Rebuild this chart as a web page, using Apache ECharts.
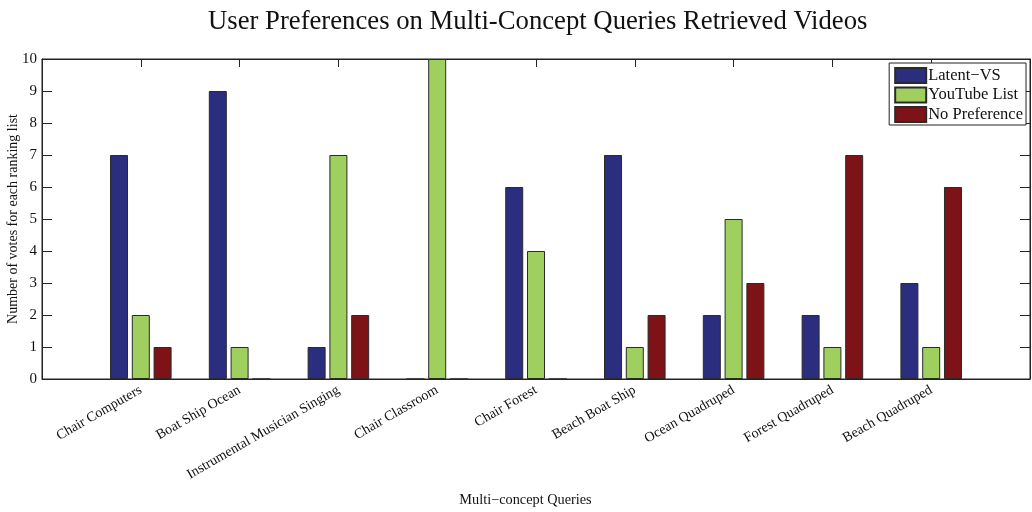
<!DOCTYPE html>
<html>
<head>
<meta charset="utf-8">
<script src="https://cdn.jsdelivr.net/npm/echarts@6/dist/echarts.min.js"></script>
<style>
  html, body { margin: 0; padding: 0; background: #fff; }
  #chart { width: 1032px; height: 512px; }
</style>
</head>
<body>
<div id="chart"></div>
<script>
// Query categories, placed at x = 1..9 on a 0..10 axis
const categories = [
  'Chair Computers', 'Boat Ship Ocean', 'Instrumental Musician Singing',
  'Chair Classroom', 'Chair Forest', 'Beach Boat Ship',
  'Ocean Quadruped', 'Forest Quadruped', 'Beach Quadruped'
];
const seriesNames = ['Latent\u2212VS', 'YouTube List', 'No Preference'];
const latentVS     = [7, 9, 1, 0, 6, 7, 2, 2, 3];
const youtubeList  = [2, 1, 7, 10, 4, 1, 5, 1, 1];
const noPreference = [1, 0, 2, 0, 0, 2, 3, 7, 6];
const yTicks = [0, 1, 2, 3, 4, 5, 6, 7, 8, 9, 10];

const serif = 'Liberation Serif';
const colors = ['#2b2e7f', '#9fd05f', '#7e1317'];

const toPoints = arr => arr.map((v, i) => [i + 1, v]);

const chart = echarts.init(document.getElementById('chart'), null, { renderer: 'canvas' });

const barSeries = [latentVS, youtubeList, noPreference].map((arr, k) => ({
  name: seriesNames[k],
  type: 'bar',
  data: toPoints(arr),
  barWidth: 18,
  barGap: '21%',
  itemStyle: { color: colors[k], borderColor: '#2a2a2a', borderWidth: 1 }
}));

// Box-style axes: every axis line sits on its own grid edge, ticks point inward
const lineStyle = { show: true, onZero: false, lineStyle: { color: '#222', width: 1 } };
const tickStyle = { show: true, inside: true, lineStyle: { color: '#222', width: 1 } };

chart.setOption({
  animation: false,
  textStyle: { fontFamily: serif },
  title: {
    text: 'User Preferences on Multi-Concept Queries Retrieved Videos',
    left: 203,
    top: 3,
    textStyle: { fontFamily: serif, fontSize: 26.7, fontWeight: 'normal', color: '#111' }
  },
  legend: {
    right: 6,
    top: 63,
    orient: 'vertical',
    itemWidth: 31,
    itemHeight: 15,
    itemGap: 0.5,
    padding: [3, 3, 1, 5],
    borderColor: '#222',
    borderWidth: 1,
    backgroundColor: '#fff',
    textStyle: { fontFamily: serif, fontSize: 16.5, lineHeight: 19, color: '#111', padding: [0, 0, 0, -3] },
    data: seriesNames.map(n => ({ name: n, icon: 'rect' }))
  },
  grid: {
    left: 42, right: 2, top: 59, bottom: 133,
    outerBoundsMode: 'none',
    containLabel: false,
    show: true, borderColor: '#222', borderWidth: 1
  },
  xAxis: [{
    type: 'value',
    position: 'bottom',
    min: 0, max: 10, interval: 1,
    name: 'Multi\u2212concept Queries',
    nameLocation: 'middle',
    nameGap: 114,
    nameTextStyle: { fontFamily: serif, fontSize: 14.3, color: '#111', padding: [0, 21, 0, 0] },
    axisLine: lineStyle,
    axisTick: Object.assign({ length: 8 }, tickStyle),
    splitLine: { show: false },
    axisLabel: {
      rotate: 30,
      margin: 10,
      fontFamily: serif, fontSize: 14, color: '#111',
      formatter: v => (v >= 1 && v <= categories.length) ? categories[v - 1] : ''
    }
  }, {
    type: 'value',
    position: 'top',
    min: 0, max: 10, interval: 1,
    axisLine: lineStyle,
    axisTick: Object.assign({ length: 8 }, tickStyle),
    axisLabel: { show: false },
    splitLine: { show: false }
  }],
  yAxis: [{
    type: 'value',
    position: 'left',
    min: yTicks[0], max: yTicks[yTicks.length - 1], interval: 1,
    name: 'Number of votes for each ranking list',
    nameLocation: 'middle',
    nameGap: 22,
    nameMoveOverlap: false,
    nameTextStyle: { fontFamily: serif, fontSize: 14, color: '#111' },
    axisLine: lineStyle,
    axisTick: Object.assign({ length: 10 }, tickStyle),
    splitLine: { show: false },
    axisLabel: { margin: 5, fontFamily: serif, fontSize: 15, color: '#111' }
  }, {
    type: 'value',
    position: 'right',
    min: yTicks[0], max: yTicks[yTicks.length - 1], interval: 1,
    axisLine: lineStyle,
    axisTick: Object.assign({ length: 10 }, tickStyle),
    axisLabel: { show: false },
    splitLine: { show: false }
  }],
  series: barSeries
});
</script>
</body>
</html>
